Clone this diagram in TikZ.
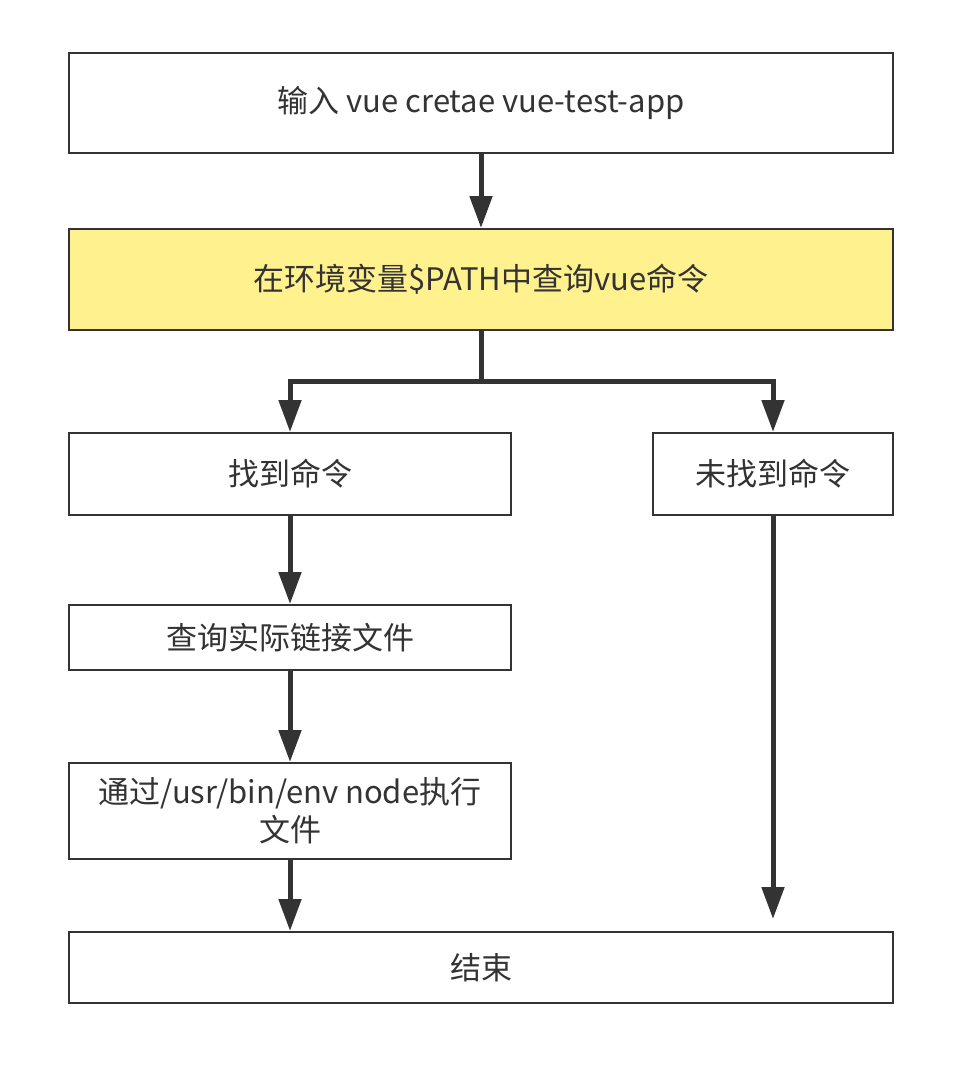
\documentclass[tikz,border=0pt]{standalone}
\usepackage{fontspec}
\setmainfont{Noto Sans CJK SC}
\usetikzlibrary{arrows.meta}
\definecolor{jaune}{RGB}{254,241,142}
\definecolor{encre}{RGB}{51,51,51}
\begin{document}
\begin{tikzpicture}[
       x=1pt,y=-1pt,
       boite/.style={
         rectangle,
         draw=encre,
         line width=2pt,
         fill=white,
         text=encre,
         inner sep=0pt,
         align=center,
         font=\fontsize{31}{38}\selectfont
       },
       fleche/.style={
         draw=encre,
         line width=5pt,
         -{Triangle[width=22pt,length=32pt]}
       }
     ]

       \useasboundingbox (0,0) rectangle (970,1066);

       \node (entree) at (481,103) [boite,minimum width=824pt,minimum height=100pt]{输入 vue cretae vue-test-app};
       \node (recherche) at (481,279.5) [boite,fill=jaune,minimum width=824pt,minimum height=101pt]{在环境变量\$PATH中查询vue命令};
       \node (trouve) at (290,474) [boite,minimum width=442pt,minimum height=82pt]{找到命令};
       \node (nontrouve) at (773,474) [boite,minimum width=240pt,minimum height=82pt]{未找到命令};
       \node (lien) at (290,637.5) [boite,minimum width=442pt,minimum height=65pt]{查询实际链接文件};
       \node (execution) at (290,811) [boite,minimum width=442pt,minimum height=96pt]{通过/usr/bin/env node执行\\文件};
       \node (fin) at (481,967.5) [boite,minimum width=824pt,minimum height=71pt]{结束};
       \coordinate (fourche) at (481,381);

       \draw[fleche] (entree) -- (recherche);
       \draw[fleche] (recherche.south) -- (fourche) -| (trouve.north);
       \draw[fleche] (fourche) -| (nontrouve.north);
       \draw[fleche] (trouve) -- (lien);
       \draw[fleche] (lien) -- (execution);
       \draw[fleche] (execution) -- (execution |- fin.north);
       \draw[fleche,shorten >=12pt] (nontrouve) -- (nontrouve |- fin.north);

\end{tikzpicture}
\end{document}
